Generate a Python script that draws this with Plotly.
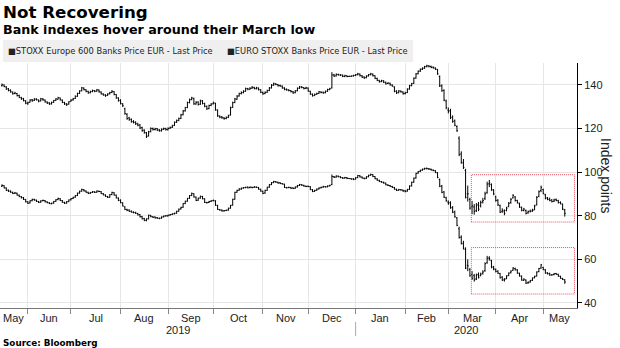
import pandas as pd
import plotly.graph_objects as go

# Trading days (weekdays) covered by the chart
trade_dates = pd.bdate_range("2019-05-16", "2020-05-15")

# STOXX Europe 600 Banks Price EUR - daily OHLC
stoxx600_open = [
    139.6, 139.9, 139.0, 138.2, 137.6, 136.6, 136.0, 136.0, 135.1, 134.1,
    133.7, 132.6, 131.5, 132.0, 133.1, 132.9, 133.5, 133.0, 132.6, 133.5,
    133.0, 132.1, 131.7, 131.2, 132.0, 132.9, 133.4, 134.0, 133.0, 131.9,
    131.3, 131.2, 132.5, 133.1, 133.8, 134.7, 136.1, 137.3, 138.5, 137.7,
    137.0, 136.4, 137.0, 137.3, 137.1, 137.6, 136.7, 135.8, 135.3, 135.2,
    135.9, 136.5, 136.8, 135.5, 134.0, 132.9, 131.2, 129.0, 126.5, 124.8,
    124.2, 123.0, 122.9, 122.0, 121.6, 120.4, 119.2, 118.0, 116.6, 118.6,
    120.0, 119.5, 119.9, 119.3, 118.9, 119.7, 120.0, 119.4, 120.1, 120.5,
    121.4, 122.9, 123.7, 124.6, 126.3, 128.1, 129.6, 131.9, 133.3, 133.8,
    131.2, 132.1, 131.1, 132.6, 131.4, 130.1, 129.1, 130.6, 131.3, 131.5,
    128.4, 125.6, 125.3, 124.8, 124.6, 125.1, 126.2, 129.7, 131.9, 133.4,
    134.9, 136.0, 136.4, 137.1, 138.3, 138.0, 138.5, 138.8, 138.2, 138.5,
    137.7, 136.5, 136.0, 136.6, 137.4, 138.6, 139.9, 140.4, 140.1, 139.7,
    139.4, 138.5, 138.0, 137.6, 137.3, 136.8, 136.4, 137.3, 138.5, 139.1,
    138.7, 138.4, 138.5, 137.0, 135.7, 135.1, 135.7, 136.1, 136.7, 136.6,
    136.4, 137.1, 137.9, 138.6, 144.6, 144.1, 144.7, 144.5, 144.4, 143.8,
    144.1, 143.8, 143.9, 144.1, 144.3, 144.7, 144.9, 144.1, 143.6, 143.3,
    144.1, 144.7, 144.9, 144.1, 142.9, 142.0, 141.5, 141.8, 141.1, 140.6,
    140.7, 139.9, 139.0, 137.1, 136.4, 137.1, 136.7, 136.0, 136.5, 138.1,
    139.7, 140.7, 143.1, 145.1, 146.3, 147.2, 147.7, 148.4, 148.6, 148.4,
    148.1, 147.7, 147.0, 143.8, 139.6, 137.5, 132.6, 128.4, 128.2, 125.2,
    123.5, 120.9, 115.5, 108.3, 104.2, 100.8, 90.0, 87.5, 84.0, 84.0,
    82.3, 85.2, 84.5, 86.4, 88.0, 90.5, 94.6, 94.3, 91.6, 88.7,
    87.1, 84.6, 82.0, 82.1, 82.4, 84.2, 86.0, 88.2, 88.6, 87.0,
    85.5, 83.8, 82.4, 82.4, 81.3, 82.1, 82.2, 82.8, 85.0, 88.9,
    91.5, 92.0, 89.6, 88.2, 87.6, 87.2, 86.6, 87.4, 86.9, 86.1,
    85.2, 82.6,
]
stoxx600_high = [
    140.6, 140.2, 139.4, 138.5, 137.9, 137.0, 136.8, 136.3, 135.5, 134.5,
    134.0, 133.0, 132.3, 133.4, 133.5, 133.9, 133.8, 133.3, 134.0, 133.9,
    133.3, 132.4, 132.0, 132.3, 133.1, 133.9, 134.5, 134.2, 133.3, 132.2,
    131.6, 132.5, 133.4, 134.0, 135.1, 136.4, 137.5, 139.0, 138.8, 138.0,
    137.3, 137.3, 137.8, 137.6, 138.1, 137.9, 137.0, 136.1, 135.7, 136.1,
    136.8, 137.6, 137.1, 135.8, 134.3, 133.4, 131.6, 129.5, 127.0, 125.3,
    124.6, 123.8, 123.3, 122.6, 122.0, 120.8, 119.6, 118.4, 118.9, 120.5,
    120.4, 120.3, 120.2, 119.7, 120.0, 120.4, 120.3, 120.5, 120.9, 121.7,
    123.2, 124.1, 125.0, 126.7, 128.5, 129.9, 132.3, 133.7, 134.5, 134.1,
    132.5, 132.4, 133.2, 133.0, 131.8, 130.5, 130.9, 131.6, 132.3, 131.8,
    128.7, 126.0, 125.7, 125.2, 125.5, 126.3, 130.0, 132.3, 134.0, 135.3,
    136.4, 137.0, 137.5, 138.7, 138.6, 138.9, 139.4, 139.1, 139.1, 138.8,
    138.0, 136.9, 137.0, 137.8, 139.0, 140.3, 141.0, 140.8, 140.4, 140.1,
    139.7, 138.9, 138.3, 138.0, 137.6, 137.2, 137.6, 138.8, 139.5, 139.4,
    139.0, 139.1, 138.8, 137.3, 136.0, 136.0, 136.4, 137.2, 137.0, 136.9,
    137.4, 138.2, 138.6, 145.8, 145.0, 145.2, 145.1, 144.9, 144.7, 144.6,
    144.4, 144.2, 144.3, 144.6, 144.9, 145.5, 145.2, 144.5, 143.9, 144.4,
    145.0, 145.5, 145.2, 144.4, 143.3, 142.3, 142.3, 142.1, 141.5, 141.2,
    141.0, 140.2, 139.3, 137.5, 137.6, 137.4, 137.0, 136.8, 138.4, 140.0,
    140.9, 143.4, 145.4, 146.6, 147.5, 148.0, 148.7, 149.2, 149.0, 148.8,
    148.4, 148.0, 147.3, 144.3, 140.2, 137.9, 133.2, 129.6, 129.0, 126.0,
    124.1, 121.4, 116.4, 109.5, 106.0, 101.5, 93.8, 88.2, 86.8, 85.3,
    85.8, 86.3, 86.9, 88.2, 91.0, 95.6, 96.4, 94.8, 92.2, 89.2,
    87.6, 85.1, 83.4, 82.9, 84.1, 86.3, 88.1, 89.9, 89.0, 87.3,
    86.0, 84.2, 83.6, 82.8, 82.4, 82.8, 83.2, 85.0, 89.0, 91.6,
    93.8, 92.4, 90.0, 88.6, 88.3, 87.6, 87.8, 87.9, 87.3, 86.6,
    85.6, 83.1,
]
stoxx600_low = [
    139.2, 138.9, 137.7, 137.0, 136.4, 135.5, 135.7, 134.7, 133.9, 133.1,
    132.4, 131.1, 130.8, 131.8, 132.2, 132.6, 132.8, 132.0, 132.4, 132.7,
    131.8, 131.2, 130.8, 131.0, 131.7, 132.6, 133.2, 132.8, 131.6, 130.8,
    130.3, 130.9, 132.2, 132.7, 133.5, 134.5, 135.8, 137.0, 137.4, 136.6,
    135.9, 136.1, 136.6, 136.6, 136.8, 136.4, 135.5, 135.0, 134.5, 134.9,
    135.6, 136.2, 135.2, 133.6, 132.3, 131.0, 129.8, 126.3, 124.0, 123.5,
    122.6, 122.3, 121.6, 121.0, 119.7, 118.5, 117.6, 115.6, 116.3, 118.2,
    119.0, 119.1, 118.8, 118.5, 118.6, 119.3, 119.0, 119.1, 119.8, 120.2,
    121.1, 122.5, 123.3, 124.3, 126.0, 127.7, 129.3, 131.5, 132.9, 130.8,
    130.9, 130.5, 130.8, 131.0, 129.7, 128.5, 128.8, 130.2, 131.0, 128.1,
    125.3, 124.7, 124.4, 124.0, 124.2, 124.8, 125.9, 129.4, 131.6, 133.1,
    134.6, 135.6, 136.1, 136.8, 137.5, 137.7, 138.1, 137.9, 137.9, 137.4,
    136.2, 135.4, 135.7, 136.3, 137.1, 138.3, 139.5, 139.8, 139.2, 139.1,
    138.2, 137.5, 137.3, 137.0, 136.5, 135.9, 136.1, 137.0, 138.1, 138.4,
    137.9, 138.0, 136.8, 135.4, 134.6, 134.8, 135.4, 135.8, 136.1, 135.9,
    136.1, 136.8, 137.5, 138.3, 143.6, 143.8, 144.2, 144.1, 143.5, 143.5,
    143.5, 143.6, 143.6, 143.8, 144.0, 144.3, 143.8, 143.1, 142.7, 143.0,
    143.8, 144.3, 143.8, 142.6, 141.7, 141.0, 141.2, 140.8, 140.1, 140.3,
    139.6, 139.1, 136.6, 135.8, 136.1, 136.4, 135.5, 135.6, 136.2, 137.8,
    139.3, 140.4, 142.8, 144.8, 145.9, 146.8, 147.3, 148.0, 148.0, 147.6,
    147.4, 146.8, 144.6, 139.0, 136.8, 132.5, 128.8, 126.9, 124.3, 122.6,
    121.0, 118.4, 107.3, 103.8, 101.4, 87.9, 86.5, 82.8, 80.7, 80.5,
    81.7, 82.1, 83.8, 85.6, 87.2, 90.1, 93.1, 91.4, 89.4, 86.4,
    84.5, 81.2, 81.3, 80.2, 82.0, 83.9, 85.5, 87.9, 86.5, 85.6,
    83.6, 82.0, 82.0, 80.6, 80.9, 81.5, 81.8, 82.5, 84.7, 88.5,
    90.8, 89.8, 87.5, 87.1, 86.6, 86.1, 86.3, 86.6, 85.6, 85.2,
    82.6, 79.6,
]
stoxx600_close = [
    140.0, 139.2, 138.0, 137.4, 136.8, 135.9, 136.2, 135.0, 134.3, 133.5,
    132.8, 131.6, 131.8, 133.0, 132.7, 133.4, 133.2, 132.5, 133.6, 133.1,
    132.2, 131.6, 131.3, 131.9, 132.8, 133.5, 134.0, 133.1, 132.0, 131.2,
    130.9, 132.2, 133.0, 133.6, 134.8, 136.0, 137.2, 138.6, 137.8, 137.0,
    136.3, 136.9, 137.4, 137.0, 137.7, 136.8, 135.9, 135.4, 135.0, 135.8,
    136.4, 137.0, 135.6, 134.0, 132.7, 131.5, 130.4, 126.8, 124.5, 124.0,
    123.2, 122.8, 122.2, 121.5, 120.2, 119.0, 118.2, 116.3, 118.4, 120.0,
    119.6, 119.8, 119.2, 119.0, 119.6, 119.9, 119.5, 120.0, 120.4, 121.2,
    122.8, 123.6, 124.5, 126.2, 128.0, 129.5, 131.8, 133.2, 134.0, 131.3,
    132.0, 131.0, 132.7, 131.5, 130.2, 129.0, 130.5, 131.2, 131.8, 128.6,
    125.8, 125.2, 124.9, 124.5, 125.0, 125.8, 129.5, 131.8, 133.5, 134.8,
    135.9, 136.5, 137.0, 138.2, 138.0, 138.4, 138.9, 138.3, 138.6, 137.8,
    136.6, 135.9, 136.5, 137.3, 138.5, 139.8, 140.5, 140.2, 139.6, 139.5,
    138.6, 137.9, 137.7, 137.4, 136.9, 136.3, 137.2, 138.4, 139.0, 138.8,
    138.3, 138.6, 137.2, 135.8, 135.0, 135.6, 136.0, 136.8, 136.5, 136.3,
    137.0, 137.8, 138.2, 144.5, 144.0, 144.8, 144.6, 144.5, 143.9, 144.2,
    143.8, 143.9, 144.0, 144.3, 144.6, 145.0, 144.2, 143.5, 143.2, 144.0,
    144.6, 145.0, 144.2, 143.0, 142.1, 141.4, 141.9, 141.2, 140.5, 140.8,
    140.0, 139.5, 137.0, 136.3, 137.2, 136.8, 135.9, 136.3, 138.0, 139.6,
    140.5, 143.0, 145.0, 146.2, 147.1, 147.6, 148.3, 148.7, 148.5, 148.0,
    147.8, 147.2, 145.0, 139.5, 137.3, 133.0, 129.5, 127.8, 124.9, 123.2,
    121.5, 119.0, 108.0, 104.5, 102.1, 88.4, 90.0, 83.5, 84.5, 82.0,
    84.7, 83.0, 86.0, 87.0, 90.0, 94.5, 95.0, 92.0, 90.0, 87.0,
    85.0, 81.6, 82.5, 81.1, 83.5, 85.7, 87.5, 89.3, 87.0, 86.0,
    84.0, 82.5, 83.0, 81.1, 81.8, 82.0, 82.5, 84.5, 88.4, 91.0,
    93.0, 90.2, 88.0, 87.5, 87.0, 86.5, 87.2, 87.0, 86.0, 85.7,
    83.0, 81.1,
]

# EURO STOXX Banks Price EUR - daily OHLC
eurostoxx_open = [
    93.5, 93.8, 92.7, 91.7, 91.3, 90.7, 90.3, 90.3, 89.4, 88.7,
    88.3, 87.4, 86.3, 85.9, 86.9, 87.4, 87.1, 86.5, 86.2, 86.9,
    86.9, 86.3, 85.9, 85.5, 85.8, 86.6, 87.4, 87.8, 86.9, 86.1,
    85.8, 86.5, 87.3, 87.9, 88.5, 89.3, 90.4, 91.3, 91.9, 91.3,
    90.7, 90.3, 90.7, 90.9, 90.8, 91.2, 91.0, 90.1, 89.5, 88.8,
    88.5, 89.7, 90.5, 89.4, 88.1, 87.1, 85.8, 84.0, 82.8, 82.6,
    82.1, 81.6, 81.5, 81.0, 80.5, 79.6, 78.7, 77.8, 78.6, 80.1,
    79.5, 79.4, 79.1, 78.8, 78.9, 79.5, 79.9, 79.9, 80.3, 80.6,
    80.9, 81.2, 82.1, 83.1, 83.9, 85.6, 86.7, 88.0, 89.3, 90.0,
    88.5, 87.1, 88.1, 88.8, 87.7, 86.0, 86.1, 86.6, 86.9, 86.8,
    84.7, 82.8, 82.5, 82.2, 82.4, 82.6, 83.5, 84.9, 87.6, 90.8,
    91.7, 92.2, 92.7, 92.9, 93.1, 92.9, 93.0, 93.0, 93.1, 92.9,
    92.1, 91.2, 90.4, 91.7, 93.1, 94.3, 95.2, 95.6, 95.3, 95.1,
    94.7, 94.4, 92.9, 92.9, 92.9, 92.7, 92.6, 93.2, 93.9, 94.2,
    93.9, 93.5, 93.5, 93.3, 91.9, 91.2, 91.7, 92.3, 92.8, 93.1,
    93.3, 93.3, 93.7, 94.3, 97.9, 97.7, 98.1, 97.8, 97.4, 97.3,
    97.4, 97.1, 97.0, 96.9, 96.8, 97.5, 98.3, 97.7, 97.2, 97.1,
    97.9, 98.6, 98.8, 97.9, 96.9, 96.2, 95.6, 95.3, 94.9, 94.1,
    93.8, 93.4, 92.9, 92.1, 91.7, 91.9, 91.7, 91.4, 91.3, 92.1,
    93.7, 95.4, 97.3, 99.5, 100.3, 100.9, 101.4, 101.7, 101.5, 101.3,
    100.9, 100.6, 99.7, 96.6, 93.6, 90.9, 88.2, 86.2, 86.0, 83.8,
    81.8, 79.0, 74.0, 70.2, 67.2, 64.5, 57.3, 55.4, 53.0, 52.5,
    51.0, 53.1, 52.6, 53.6, 54.8, 58.4, 60.6, 59.4, 56.6, 55.4,
    54.6, 53.5, 51.8, 50.6, 51.2, 52.6, 53.9, 55.0, 55.8, 55.2,
    53.6, 52.3, 50.4, 50.5, 49.2, 49.6, 50.4, 51.6, 52.4, 54.4,
    56.0, 56.3, 55.2, 53.8, 53.5, 52.9, 53.0, 53.5, 53.1, 52.2,
    51.2, 50.6,
]
eurostoxx_high = [
    94.4, 94.0, 93.0, 92.0, 91.6, 91.0, 90.9, 90.6, 89.7, 89.0,
    88.6, 87.7, 86.7, 87.1, 87.8, 87.8, 87.4, 86.8, 87.1, 87.4,
    87.2, 86.6, 86.2, 86.0, 86.8, 87.6, 88.3, 88.1, 87.2, 86.4,
    86.7, 87.5, 88.1, 88.7, 89.5, 90.6, 91.5, 92.4, 92.2, 91.6,
    91.0, 90.9, 91.3, 91.2, 91.6, 91.5, 91.3, 90.4, 89.8, 89.1,
    89.9, 91.0, 90.8, 89.7, 88.4, 87.5, 86.2, 84.4, 83.2, 82.9,
    82.4, 82.0, 81.8, 81.3, 80.8, 79.9, 79.0, 78.8, 80.5, 80.4,
    79.8, 79.7, 79.4, 79.1, 79.7, 80.1, 80.3, 80.5, 80.8, 81.1,
    81.4, 82.3, 83.3, 84.1, 85.8, 86.9, 88.2, 89.5, 90.6, 90.3,
    88.8, 88.3, 89.2, 89.1, 88.0, 86.4, 86.8, 87.1, 87.4, 87.1,
    85.0, 83.1, 82.9, 82.6, 82.8, 83.7, 85.0, 87.8, 91.0, 91.9,
    92.6, 92.9, 93.1, 93.3, 93.4, 93.4, 93.3, 93.5, 93.4, 93.2,
    92.4, 91.5, 91.9, 93.3, 94.5, 95.4, 96.0, 95.9, 95.6, 95.4,
    95.0, 94.7, 93.2, 93.3, 93.2, 93.0, 93.4, 94.1, 94.6, 94.5,
    94.2, 93.8, 93.8, 93.6, 92.2, 91.9, 92.5, 93.0, 93.3, 93.7,
    93.6, 93.9, 94.2, 98.9, 98.2, 98.5, 98.4, 98.1, 97.7, 97.8,
    97.7, 97.3, 97.2, 97.2, 97.7, 98.7, 98.6, 98.0, 97.5, 98.1,
    98.8, 99.3, 99.1, 98.2, 97.2, 96.5, 95.9, 95.6, 95.2, 94.4,
    94.1, 93.7, 93.2, 92.4, 92.3, 92.2, 92.0, 91.8, 92.3, 93.9,
    95.6, 97.5, 99.7, 100.5, 101.1, 101.6, 102.0, 102.1, 101.8, 101.6,
    101.2, 100.9, 100.0, 97.0, 94.1, 91.3, 88.7, 87.0, 86.6, 84.4,
    82.3, 79.4, 75.0, 71.0, 68.5, 65.5, 60.0, 56.0, 54.6, 53.3,
    53.5, 54.0, 53.9, 55.0, 58.6, 61.6, 61.4, 59.8, 57.0, 55.8,
    55.0, 53.8, 52.3, 51.4, 52.7, 54.0, 55.0, 56.4, 56.2, 55.5,
    53.9, 52.6, 51.3, 50.8, 49.9, 50.6, 51.7, 52.5, 54.5, 56.1,
    57.9, 56.6, 55.5, 54.1, 53.9, 53.2, 53.7, 53.8, 53.4, 52.5,
    51.5, 50.9,
]
eurostoxx_low = [
    93.2, 92.5, 91.3, 90.9, 90.5, 89.9, 90.0, 89.2, 88.5, 87.9,
    87.2, 86.1, 85.4, 85.6, 86.6, 86.9, 86.3, 85.8, 85.9, 86.6,
    86.1, 85.7, 85.3, 85.2, 85.5, 86.3, 87.1, 86.7, 85.9, 85.4,
    85.5, 86.2, 87.0, 87.6, 88.2, 89.0, 90.1, 91.0, 91.1, 90.5,
    89.9, 90.0, 90.4, 90.4, 90.5, 90.8, 89.9, 89.3, 88.6, 88.1,
    88.2, 89.4, 89.2, 87.9, 86.7, 85.7, 84.2, 82.6, 82.1, 81.7,
    81.4, 81.1, 80.8, 80.1, 79.2, 78.3, 77.5, 77.4, 78.3, 79.3,
    79.0, 78.7, 78.6, 78.4, 78.6, 79.2, 79.6, 79.6, 80.0, 80.3,
    80.6, 80.9, 81.8, 82.8, 83.6, 85.3, 86.4, 87.7, 89.0, 88.3,
    86.7, 86.8, 87.8, 87.5, 85.8, 85.6, 85.8, 86.3, 86.6, 84.5,
    82.6, 82.3, 81.9, 81.9, 82.1, 82.3, 83.2, 84.6, 87.3, 90.5,
    91.4, 91.9, 92.4, 92.6, 92.5, 92.6, 92.6, 92.7, 92.7, 91.9,
    91.0, 89.9, 90.1, 91.4, 92.8, 94.0, 94.9, 95.1, 94.7, 94.5,
    94.3, 92.7, 92.5, 92.6, 92.3, 92.2, 92.3, 92.9, 93.6, 93.7,
    93.3, 93.1, 93.1, 91.7, 90.8, 90.9, 91.4, 92.0, 92.5, 92.8,
    92.9, 93.0, 93.4, 94.0, 97.3, 97.4, 97.6, 97.2, 96.9, 97.0,
    96.8, 96.8, 96.5, 96.3, 96.5, 97.2, 97.5, 97.0, 96.7, 96.8,
    97.6, 98.3, 97.7, 96.7, 96.0, 95.4, 95.1, 94.7, 93.9, 93.6,
    93.2, 92.7, 91.9, 91.3, 91.4, 91.5, 91.0, 90.7, 91.0, 91.8,
    93.4, 95.1, 97.0, 99.2, 100.0, 100.6, 101.1, 101.2, 101.0, 100.7,
    100.4, 99.5, 97.2, 93.1, 90.3, 88.1, 86.4, 85.0, 83.2, 81.2,
    79.1, 75.2, 69.5, 66.8, 64.5, 55.5, 54.6, 52.0, 50.6, 49.8,
    50.5, 51.2, 52.2, 53.0, 54.3, 58.0, 59.4, 55.9, 55.0, 54.0,
    53.3, 51.2, 50.1, 49.8, 50.9, 52.3, 53.5, 54.7, 54.9, 53.4,
    52.1, 50.2, 50.1, 48.7, 48.8, 49.3, 50.1, 51.3, 52.1, 54.1,
    55.7, 55.0, 53.4, 53.1, 52.5, 52.5, 52.7, 52.9, 52.0, 51.1,
    50.5, 48.8,
]
eurostoxx_close = [
    93.9, 92.8, 91.6, 91.2, 90.8, 90.2, 90.4, 89.5, 88.8, 88.2,
    87.5, 86.4, 85.7, 86.8, 87.5, 87.2, 86.6, 86.1, 86.8, 87.0,
    86.4, 86.0, 85.6, 85.7, 86.5, 87.3, 87.9, 87.0, 86.2, 85.7,
    86.4, 87.2, 87.8, 88.4, 89.2, 90.3, 91.2, 92.0, 91.4, 90.8,
    90.2, 90.6, 91.0, 90.7, 91.3, 91.1, 90.2, 89.6, 88.9, 88.4,
    89.6, 90.7, 89.5, 88.2, 87.0, 86.0, 84.5, 82.9, 82.5, 82.0,
    81.7, 81.4, 81.1, 80.4, 79.5, 78.6, 77.9, 78.5, 80.2, 79.6,
    79.3, 79.0, 78.9, 78.8, 79.4, 79.8, 80.0, 80.2, 80.5, 80.8,
    81.1, 82.0, 83.0, 83.8, 85.5, 86.6, 87.9, 89.2, 90.2, 88.6,
    87.0, 88.0, 88.9, 87.8, 86.1, 86.0, 86.5, 86.8, 87.0, 84.8,
    82.9, 82.6, 82.2, 82.3, 82.5, 83.4, 84.7, 87.5, 90.7, 91.6,
    92.3, 92.6, 92.8, 93.0, 92.8, 93.1, 92.9, 93.2, 93.0, 92.2,
    91.3, 90.2, 91.6, 93.0, 94.2, 95.1, 95.7, 95.4, 95.0, 94.8,
    94.6, 93.0, 92.8, 93.0, 92.6, 92.5, 93.1, 93.8, 94.3, 94.0,
    93.6, 93.4, 93.4, 92.0, 91.1, 91.6, 92.2, 92.7, 93.0, 93.4,
    93.2, 93.6, 93.9, 98.0, 97.6, 98.2, 97.9, 97.5, 97.2, 97.5,
    97.1, 97.0, 96.8, 96.6, 97.4, 98.4, 97.8, 97.3, 97.0, 97.8,
    98.5, 98.9, 98.0, 97.0, 96.3, 95.7, 95.4, 95.0, 94.2, 93.9,
    93.5, 93.0, 92.2, 91.6, 92.0, 91.8, 91.3, 91.1, 92.0, 93.6,
    95.3, 97.2, 99.4, 100.2, 100.8, 101.3, 101.6, 101.6, 101.4, 101.0,
    100.7, 99.8, 97.5, 93.5, 90.7, 88.5, 86.9, 85.7, 83.6, 81.6,
    79.5, 75.6, 70.0, 67.4, 65.1, 56.0, 57.0, 52.5, 51.4, 50.6,
    52.8, 51.8, 53.2, 54.2, 58.0, 60.5, 60.2, 56.4, 55.6, 54.5,
    53.7, 51.6, 50.5, 50.8, 52.4, 53.7, 54.6, 56.0, 55.2, 53.7,
    52.4, 50.5, 50.9, 49.1, 49.5, 50.3, 51.4, 52.2, 54.2, 55.8,
    57.5, 55.4, 53.7, 53.4, 52.8, 52.9, 53.4, 53.2, 52.3, 51.4,
    50.8, 49.6,
]

series = [
    (stoxx600_open, stoxx600_high, stoxx600_low, stoxx600_close),
    (eurostoxx_open, eurostoxx_high, eurostoxx_low, eurostoxx_close),
]
legend_labels = [
    "STOXX Europe 600 Banks Price EUR - Last Price",
    "EURO STOXX Banks Price EUR - Last Price",
]
y_ticks = [40, 60, 80, 100, 120, 140]

# Highlight boxes around the post-crash trading range (date span, value span)
range_boxes = [
    ("2020-03-16 16:00", "2020-05-21 12:00", 77.1, 98.8),
    ("2020-03-16 16:00", "2020-05-21 12:00", 44.1, 65.4),
]

X_START = pd.Timestamp("2019-05-15 02:00")
X_END = pd.Timestamp("2020-05-22 16:00")
Y_MIN, Y_MAX = 37.7, 150.0

W, H = 620, 348
M_L, M_R, M_T, M_B = 0, 43, 63, 40
PLOT_W = W - M_L - M_R
PLOT_H = H - M_T - M_B


def xp(px):
    """Pixel column -> paper x."""
    return (px - M_L) / PLOT_W


def yp(py):
    """Pixel row -> paper y."""
    return (H - M_B - py) / PLOT_H


def mid_date(lo, hi):
    """Date halfway along the trading-day span [lo, hi)."""
    days = pd.bdate_range(lo.normalize(), hi, inclusive="left")
    pos = len(days) / 2.0
    k = min(int(pos), len(days) - 1)
    return days[k] + pd.Timedelta(days=pos - k)


fig = go.Figure()
for o, h, l, c in series:
    fig.add_trace(go.Ohlc(
        x=trade_dates, open=o, high=h, low=l, close=c,
        increasing=dict(line=dict(color="black", width=1)),
        decreasing=dict(line=dict(color="black", width=1)),
        tickwidth=0.45, hoverinfo="skip", showlegend=False,
    ))

# Month boundaries: first trading day of each month inside the range
firsts = pd.Series(trade_dates).groupby([trade_dates.year, trade_dates.month]).first()
month_starts = [d for d in firsts if d > trade_dates[0]]

annotations = []
label_font = dict(family="Liberation Sans, Arial, sans-serif", size=11, color="#222")

# Month labels centred within each month
bounds = [X_START] + month_starts + [X_END]
for lo, hi in zip(bounds[:-1], bounds[1:]):
    annotations.append(dict(
        x=mid_date(lo, hi), xref="x", y=yp(318), yref="paper",
        text=lo.strftime("%b"), showarrow=False, font=label_font,
        xanchor="center", yanchor="middle",
    ))

# Year labels centred within each year
year_split = pd.Timestamp("2020-01-01")
for lo, hi, yr in [(X_START, year_split, "2019"), (year_split, X_END, "2020")]:
    annotations.append(dict(
        x=mid_date(lo, hi), xref="x", y=yp(329.5), yref="paper",
        text=yr, showarrow=False, font=label_font,
        xanchor="center", yanchor="middle",
    ))

# Titles, legend, source, axis title
annotations += [
    dict(x=xp(1), y=yp(12), xref="paper", yref="paper", xanchor="left", yanchor="middle",
         text="<b>Not Recovering</b>", showarrow=False,
         font=dict(family="DejaVu Sans", size=16.7, color="#000")),
    dict(x=xp(1), y=yp(30), xref="paper", yref="paper", xanchor="left", yanchor="middle",
         text="<b>Bank indexes hover around their March low</b>", showarrow=False,
         font=dict(family="DejaVu Sans", size=12.7, color="#000")),
    dict(x=xp(6), y=yp(51), xref="paper", yref="paper", xanchor="left", yanchor="middle",
         text="■" + legend_labels[0], showarrow=False,
         font=dict(family="DejaVu Sans", size=8.3, color="#222")),
    dict(x=xp(225), y=yp(51), xref="paper", yref="paper", xanchor="left", yanchor="middle",
         text="■" + legend_labels[1], showarrow=False,
         font=dict(family="DejaVu Sans", size=8.3, color="#222")),
    dict(x=xp(1), y=yp(342.5), xref="paper", yref="paper", xanchor="left", yanchor="middle",
         text="<b>Source: Bloomberg</b>", showarrow=False,
         font=dict(family="DejaVu Sans", size=8.8, color="#000")),
    dict(x=xp(606), y=yp(176), xref="paper", yref="paper", xanchor="center", yanchor="middle",
         text="Index points", textangle=90, showarrow=False,
         font=dict(family="Liberation Sans, Arial, sans-serif", size=14, color="#222")),
]

shapes = [
    # legend band
    dict(type="rect", xref="paper", yref="paper", x0=xp(3), x1=xp(413),
         y0=yp(62), y1=yp(40), fillcolor="#efefef", line=dict(width=0), layer="below"),
    # divider between year labels
    dict(type="line", xref="x", yref="paper", x0=year_split, x1=year_split,
         y0=yp(322), y1=yp(336), line=dict(color="#aaa", width=1)),
]
for x0, x1, v0, v1 in range_boxes:
    shapes.append(dict(type="rect", xref="x", yref="y", x0=x0, x1=x1, y0=v0, y1=v1,
                       line=dict(color="#e0505f", width=1, dash="1px,1px"),
                       fillcolor="rgba(0,0,0,0)"))

fig.update_layout(
    width=W, height=H,
    margin=dict(l=M_L, r=M_R, t=M_T, b=M_B),
    paper_bgcolor="white", plot_bgcolor="white",
    showlegend=False,
    annotations=annotations,
    shapes=shapes,
    xaxis=dict(
        type="date", range=[X_START, X_END],
        rangebreaks=[dict(bounds=["sat", "mon"])],
        rangeslider=dict(visible=False),
        tickmode="array", tickvals=month_starts, ticktext=[""] * len(month_starts),
        ticks="outside", ticklen=5, tickcolor="#888",
        showgrid=True, gridcolor="#e6e6e6", gridwidth=1,
        showline=True, linecolor="#777", linewidth=1,
        zeroline=False, fixedrange=True,
    ),
    yaxis=dict(
        side="right", range=[Y_MIN, Y_MAX],
        tickmode="array", tickvals=y_ticks,
        ticks="outside", ticklen=4, tickcolor="#000",
        showgrid=True, gridcolor="#e6e6e6", gridwidth=1,
        showline=True, linecolor="#000", linewidth=1,
        tickfont=label_font, zeroline=False, fixedrange=True,
    ),
)

fig.write_html("out.html")
